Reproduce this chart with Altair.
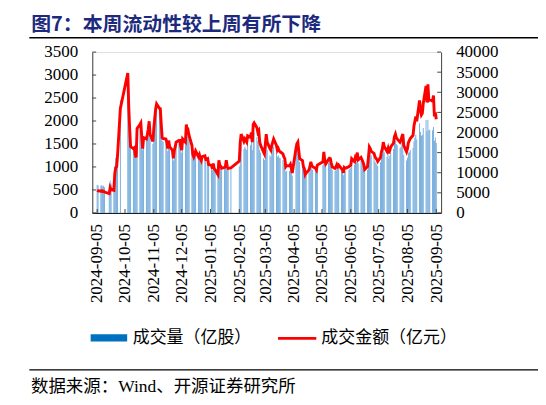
import altair as alt
import pandas as pd

# ---------------- data (trading days, 成交量 亿股, 成交金额 亿元) ----------------
months = ["2024-09", "2024-10", "2024-11", "2024-12", "2025-01", "2025-02", "2025-03",
          "2025-04", "2025-05", "2025-06", "2025-07", "2025-08", "2025-09"]

days_2024_09 = [5, 6, 9, 10, 11, 12, 13, 18, 19, 20, 23, 24, 25, 26, 27, 30]
days_2024_10 = [8, 9, 10, 11, 14, 15, 16, 17, 18, 21, 22, 23, 24, 25, 28, 29, 30, 31]
days_2024_11 = [1, 4, 5, 6, 7, 8, 11, 12, 13, 14, 15, 18, 19, 20, 21, 22, 25, 26, 27, 28, 29]
days_2024_12 = [2, 3, 4, 5, 6, 9, 10, 11, 12, 13, 16, 17, 18, 19, 20, 23, 24, 25, 26, 27, 30, 31]
days_2025_01 = [2, 3, 6, 7, 8, 9, 10, 13, 14, 15, 16, 17, 20, 21, 22, 23, 24, 27]
days_2025_02 = [5, 6, 7, 10, 11, 12, 13, 14, 17, 18, 19, 20, 21, 24, 25, 26, 27, 28]
days_2025_03 = [3, 4, 5, 6, 7, 10, 11, 12, 13, 14, 17, 18, 19, 20, 21, 24, 25, 26, 27, 28, 31]
days_2025_04 = [1, 2, 3, 7, 8, 9, 10, 11, 14, 15, 16, 17, 18, 21, 22, 23, 24, 25, 28, 29, 30]
days_2025_05 = [6, 7, 8, 9, 12, 13, 14, 15, 16, 19, 20, 21, 22, 23, 26, 27, 28, 29, 30]
days_2025_06 = [3, 4, 5, 6, 9, 10, 11, 12, 13, 16, 17, 18, 19, 20, 23, 24, 25, 26, 27, 30]
days_2025_07 = [1, 2, 3, 4, 7, 8, 9, 10, 11, 14, 15, 16, 17, 18, 21, 22, 23, 24, 25, 28, 29, 30, 31]
days_2025_08 = [1, 4, 5, 6, 7, 8, 11, 12, 13, 14, 15, 18, 19, 20, 21, 22, 25, 26, 27, 28, 29]
days_2025_09 = [1, 2, 3, 4, 5]

amount_2024_09 = [5600, 5500, 5400, 5500, 5300, 5400, 5200, 4800, 6300, 5800, 5600, 9800, 11200, 11500, 14400, 26000]
amount_2024_10 = [34800, 26500, 21000, 16500, 16000, 16200, 14500, 13800, 21000, 22000, 22400, 19000, 16000, 18700, 18400, 19500, 20800, 22800]
amount_2024_11 = [19500, 17800, 21000, 23500, 25900, 27100, 26000, 25900, 22000, 18700, 18500, 18400, 17600, 16000, 18000, 16500, 15600, 13600, 15500, 16400, 17600]
amount_2024_12 = [18000, 18000, 16500, 15600, 18400, 17600, 22000, 20000, 20400, 19200, 16800, 14500, 13900, 14500, 15400, 14000, 14500, 13500, 13000, 14000, 14200, 13300]
amount_2025_01 = [13500, 12000, 11800, 11000, 12300, 11000, 10700, 9500, 13100, 11900, 11600, 11100, 11300, 11500, 13100, 11600, 11100, 11200]
amount_2025_02 = [12900, 17500, 19600, 17800, 18400, 18000, 17600, 19200, 18800, 20000, 17600, 22000, 22400, 21200, 20000, 20400, 17600, 16800]
amount_2025_03 = [15200, 14700, 17000, 19600, 17600, 16000, 15600, 16800, 17600, 18400, 16800, 15600, 16000, 15400, 15200, 14700, 13900, 13500, 11500, 11800, 11700]
amount_2025_04 = [12100, 11200, 9900, 16000, 17200, 17600, 15500, 13500, 13000, 11500, 11000, 9500, 9900, 10700, 11500, 12700, 11800, 11500, 11100, 10700, 11900]
amount_2025_05 = [12700, 15200, 13000, 12200, 13300, 13600, 13500, 12400, 11500, 11100, 11400, 12000, 11500, 11900, 11000, 10700, 10000, 11300, 11100]
amount_2025_06 = [11500, 11700, 11900, 13500, 12800, 13900, 13600, 15000, 13200, 13800, 13300, 12700, 12000, 10800, 11500, 13800, 16400, 16000, 15300, 14800]
amount_2025_07 = [14000, 13600, 13300, 12800, 13800, 15200, 16000, 17600, 16500, 15300, 16000, 14800, 15600, 16400, 17400, 19000, 19600, 18700, 18400, 17600, 18000, 19000, 19600]
amount_2025_08 = [16800, 15200, 16000, 17500, 18000, 18500, 19300, 21600, 22800, 24000, 22800, 28000, 25600, 24400, 24800, 27200, 31600, 27500, 32000, 28000, 28200]
amount_2025_09 = [27800, 29200, 24000, 25000, 23300]

volume_2024_09 = [610, 600, 590, 600, 580, 590, 560, 530, 700, 640, 610, 1020, 1200, 1230, 1500, 2450]
volume_2024_10 = [2950, 2250, 1800, 1420, 1380, 1400, 1250, 1190, 1800, 1900, 1920, 1640, 1380, 1600, 1590, 1680, 1790, 1950]
volume_2024_11 = [1640, 1500, 1760, 1970, 2180, 2280, 2190, 2170, 1850, 1570, 1550, 1540, 1480, 1340, 1510, 1390, 1310, 1140, 1300, 1380, 1480]
volume_2024_12 = [1510, 1510, 1390, 1310, 1550, 1480, 1850, 1680, 1710, 1610, 1410, 1220, 1170, 1220, 1290, 1180, 1220, 1130, 1090, 1180, 1190, 1120]
volume_2025_01 = [1150, 1020, 1000, 940, 1050, 940, 910, 810, 1110, 1010, 990, 940, 960, 980, 1110, 990, 940, 950]
volume_2025_02 = [1010, 1370, 1530, 1390, 1440, 1400, 1370, 1500, 1470, 1560, 1370, 1720, 1750, 1650, 1560, 1590, 1370, 1310]
volume_2025_03 = [1190, 1150, 1330, 1530, 1370, 1250, 1220, 1310, 1370, 1440, 1310, 1220, 1250, 1200, 1190, 1150, 1080, 1050, 900, 920, 910]
volume_2025_04 = [990, 920, 810, 1310, 1410, 1440, 1270, 1110, 1070, 940, 900, 780, 810, 880, 940, 1040, 970, 940, 910, 880, 980]
volume_2025_05 = [1040, 1250, 1070, 1000, 1090, 1120, 1110, 1020, 940, 910, 930, 980, 940, 980, 900, 880, 820, 930, 910]
volume_2025_06 = [940, 960, 980, 1110, 1050, 1140, 1120, 1230, 1080, 1130, 1090, 1040, 980, 890, 940, 1130, 1340, 1310, 1250, 1210]
volume_2025_07 = [1120, 1090, 1060, 1020, 1100, 1220, 1280, 1410, 1320, 1220, 1280, 1180, 1250, 1310, 1390, 1520, 1570, 1500, 1470, 1410, 1440, 1520, 1570]
volume_2025_08 = [1260, 1140, 1200, 1310, 1330, 1370, 1420, 1560, 1640, 1700, 1600, 1950, 1760, 1680, 1700, 1850, 2020, 1780, 2030, 1800, 1810]
volume_2025_09 = [1800, 1870, 1570, 1640, 1520]

day_lists = [days_2024_09, days_2024_10, days_2024_11, days_2024_12, days_2025_01, days_2025_02,
             days_2025_03, days_2025_04, days_2025_05, days_2025_06, days_2025_07, days_2025_08, days_2025_09]
amount_lists = [amount_2024_09, amount_2024_10, amount_2024_11, amount_2024_12, amount_2025_01, amount_2025_02,
                amount_2025_03, amount_2025_04, amount_2025_05, amount_2025_06, amount_2025_07, amount_2025_08, amount_2025_09]
volume_lists = [volume_2024_09, volume_2024_10, volume_2024_11, volume_2024_12, volume_2025_01, volume_2025_02,
                volume_2025_03, volume_2025_04, volume_2025_05, volume_2025_06, volume_2025_07, volume_2025_08, volume_2025_09]

tick_dates = ["2024-09-05", "2024-10-05", "2024-11-05", "2024-12-05", "2025-01-05", "2025-02-05", "2025-03-05",
              "2025-04-05", "2025-05-05", "2025-06-05", "2025-07-05", "2025-08-05", "2025-09-05"]
left_ticks = [0, 500, 1000, 1500, 2000, 2500, 3000, 3500]
right_ticks = [0, 5000, 10000, 15000, 20000, 25000, 30000, 35000, 40000]

title_text = "图7：本周流动性较上周有所下降"
legend_bar_text = "成交量（亿股）"
legend_line_text = "成交金额（亿元）"
source_text = "数据来源：Wind、开源证券研究所"

rows = []
for ym, dl, al, vl in zip(months, day_lists, amount_lists, volume_lists):
    assert len(dl) == len(al) == len(vl), ym
    for d, a, v in zip(dl, al, vl):
        rows.append({"date": f"{ym}-{d:02d}T00:00:00", "amount": a, "volume": v})
df = pd.DataFrame(rows)


def dt(s):
    y, m, d = s.split("-")
    return alt.DateTime(year=int(y), month=int(m), date=int(d))


# ---------------- layout ----------------
W, H = 360, 166
NUM_FONT = "Liberation Serif"
CJK_FONT = "Liberation Serif, Noto Sans CJK SC"
AXIS_COLOR = "#404040"

xscale = alt.Scale(domain=[dt(tick_dates[0]), dt(tick_dates[-1])])
lscale = alt.Scale(domain=[0, 3500], nice=False)
rscale = alt.Scale(domain=[0, 40000], nice=False)

x_axis = alt.Axis(values=[dt(s) for s in tick_dates], format="%Y-%m-%d", labelAngle=270,
                  labelFont=NUM_FONT, labelFontSize=17.5, labelColor="#000000",
                  ticks=False, tickSize=0, labelPadding=11, grid=False,
                  domainColor="#000000", domainWidth=1, labelOverlap=False, labelFlush=False)


def xenc(field):
    return alt.X(f"{field}:T", scale=xscale, title=None, axis=x_axis)


bars = alt.Chart(df).mark_bar(size=0.9, color="#6aa6da").encode(
    x=xenc("date"),
    y=alt.Y("volume:Q", scale=lscale, title=None,
            axis=alt.Axis(orient="left", values=left_ticks, format="d", labelFont=NUM_FONT,
                          labelFontSize=17.5, labelColor="#000000", ticks=False, tickSize=0,
                          labelPadding=15, grid=False, domainColor=AXIS_COLOR, domainWidth=1)),
)

line = alt.Chart(df).mark_line(color="#ff0000", strokeWidth=3).encode(
    x=xenc("date"),
    y=alt.Y("amount:Q", scale=rscale, title=None,
            axis=alt.Axis(orient="right", values=right_ticks, format="d", labelFont=NUM_FONT,
                          labelFontSize=17.5, labelColor="#000000", ticks=False, tickSize=0,
                          labelPadding=15, grid=False, domainColor=AXIS_COLOR, domainWidth=1)),
)

# inward tick marks
lt_df = pd.DataFrame({"v": left_ticks})
rt_df = pd.DataFrame({"v": right_ticks})
xt_df = pd.DataFrame({"date": [s + "T00:00:00" for s in tick_dates]})

left_tk = alt.Chart(lt_df).mark_rule(color=AXIS_COLOR, strokeWidth=1).encode(
    y=alt.Y("v:Q", scale=lscale, axis=None), x=alt.value(0), x2=alt.value(4))
right_tk = alt.Chart(rt_df).mark_rule(color=AXIS_COLOR, strokeWidth=1).encode(
    y=alt.Y("v:Q", scale=rscale, axis=None), x=alt.value(W - 4), x2=alt.value(W))
bottom_tk = alt.Chart(xt_df).mark_rule(color=AXIS_COLOR, strokeWidth=1).encode(
    x=xenc("date"), y=alt.value(H - 4), y2=alt.value(H))

one = pd.DataFrame({"k": [0]})

title = alt.Chart(one).mark_text(align="left", baseline="middle", font="Noto Sans CJK SC",
                                 fontWeight="bold", fontSize=20.5, color="#1c2a7e").encode(
    x=alt.value(-63), y=alt.value(-27.5), text=alt.value(title_text))
top_rule = alt.Chart(one).mark_rule(color="#000000", strokeWidth=1.4).encode(
    x=alt.value(-65), x2=alt.value(460), y=alt.value(-14.8))
bottom_rule = alt.Chart(one).mark_rule(color="#000000", strokeWidth=1.4).encode(
    x=alt.value(-65), x2=alt.value(460), y=alt.value(328))

leg_rect = alt.Chart(one).mark_rect(color="#0070c0").encode(
    x=alt.value(-1.7), x2=alt.value(36), y=alt.value(291.3), y2=alt.value(298.7))
leg_text1 = alt.Chart(one).mark_text(align="left", baseline="middle", font=CJK_FONT,
                                     fontSize=17.5, color="#000000").encode(
    x=alt.value(41.7), y=alt.value(295.7), text=alt.value(legend_bar_text))
leg_line = alt.Chart(one).mark_rule(color="#ff0000", strokeWidth=3).encode(
    x=alt.value(191.7), x2=alt.value(231.2), y=alt.value(295.5))
leg_text2 = alt.Chart(one).mark_text(align="left", baseline="middle", font=CJK_FONT,
                                     fontSize=17.5, color="#000000").encode(
    x=alt.value(236.4), y=alt.value(295.7), text=alt.value(legend_line_text))

source = alt.Chart(one).mark_text(align="left", baseline="middle", font=CJK_FONT,
                                  fontSize=18, color="#000000").encode(
    x=alt.value(-63.3), y=alt.value(345.7), text=alt.value(source_text))

chart = alt.layer(
    bars, line, left_tk, right_tk, bottom_tk,
    title, top_rule, bottom_rule, leg_rect, leg_text1, leg_line, leg_text2, source,
).resolve_scale(y="independent").properties(
    width=W, height=H,
    autosize=alt.AutoSizeParams(type="none"),
    padding={"left": 87, "top": 39, "right": 100, "bottom": 200},
).configure_view(stroke=None).configure(background="#ffffff")

chart.save("out.html", embed_options={"renderer": "svg", "actions": False})
